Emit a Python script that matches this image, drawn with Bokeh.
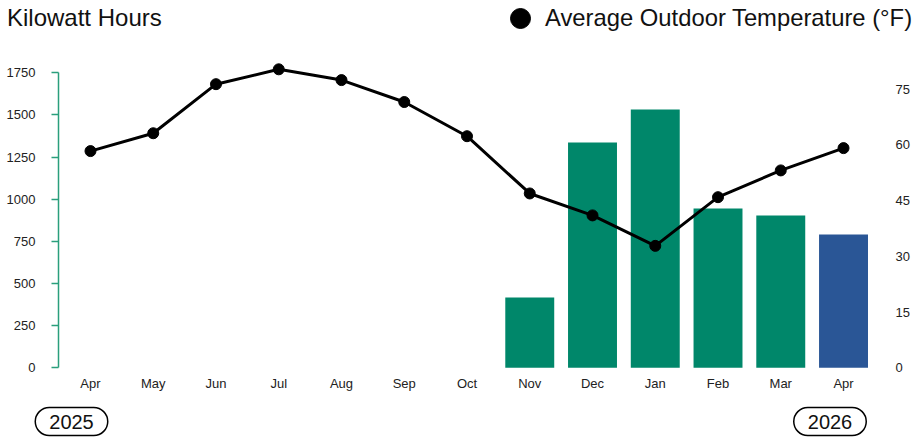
import math
from bokeh.plotting import figure
from bokeh.models import (Range1d, LinearAxis, FixedTicker, Label, Legend,
                          LegendItem, ColumnDataSource)
from bokeh.embed import file_html
from bokeh.resources import INLINE

# ---- data ----
months = ["Apr", "May", "Jun", "Jul", "Aug", "Sep", "Oct",
          "Nov", "Dec", "Jan", "Feb", "Mar", "Apr"]
kwh = [math.nan] * 7 + [417, 1336, 1532, 945, 903, 791]
temps = [58.3, 63.1, 76.3, 80.3, 77.4, 71.5, 62.3, 46.9, 41.0, 32.8, 45.9, 53.1, 59.1]
bar_colors = ["#00876a"] * 12 + ["#2a5696"]
kwh_ticks = [0, 250, 500, 750, 1000, 1250, 1500, 1750]
temp_ticks = [0, 15, 30, 45, 60, 75]
years = ["2025", "2026"]
title_text = "Kilowatt Hours"
legend_text = "Average Outdoor Temperature (°F)"

FONT = "Liberation Sans"
GREEN_AXIS = "#2a9f7c"
TXT = "#222222"
W, H = 916, 438
xs = list(range(len(months)))

source = ColumnDataSource(dict(x=xs, kwh=kwh, temp=temps, color=bar_colors))

# frame covers the whole canvas; axes are pinned with fixed_location
p = figure(width=W, height=H,
           x_range=Range1d(-1.434, 13.163), y_range=Range1d(-419.4, 2178.9),
           output_backend="svg", toolbar_location=None, min_border=0)
p.extra_y_ranges = {"temp": Range1d(-19.02, 98.81)}
p.xgrid.visible = False
p.ygrid.visible = False
p.outline_line_color = None
p.background_fill_color = "white"
p.border_fill_color = "white"

# x axis
xa = p.xaxis[0]
xa.fixed_location = 0
xa.ticker = FixedTicker(ticks=xs)
xa.major_label_overrides = {i: m for i, m in enumerate(months)}
xa.axis_line_color = None
xa.major_tick_line_color = None
xa.minor_tick_line_color = None
xa.major_tick_out = 0
xa.major_tick_in = 0
xa.major_label_standoff = 8
xa.major_label_text_font = FONT
xa.major_label_text_font_size = "13px"
xa.major_label_text_color = TXT

# left axis
ya = p.yaxis[0]
ya.fixed_location = -0.51
ya.ticker = FixedTicker(ticks=kwh_ticks)
ya.bounds = (0, 1750)
ya.axis_line_color = GREEN_AXIS
ya.axis_line_width = 1.5
ya.major_tick_line_color = GREEN_AXIS
ya.major_tick_line_width = 1.5
ya.major_tick_out = 7
ya.major_tick_in = 0
ya.minor_tick_line_color = None
ya.major_label_standoff = 16
ya.major_label_text_font = FONT
ya.major_label_text_font_size = "13px"
ya.major_label_text_color = TXT

# right axis
ra = LinearAxis(y_range_name="temp", ticker=FixedTicker(ticks=temp_ticks),
                fixed_location=12.829,
                axis_line_color=None, major_tick_line_color=None,
                minor_tick_line_color=None, major_tick_out=0, major_tick_in=0,
                major_label_standoff=0, major_label_text_font=FONT,
                major_label_text_font_size="13px",
                major_label_text_color=TXT)
p.add_layout(ra, "right")

# bars
p.vbar(x="x", top="kwh", width=0.78, fill_color="color", line_color=None,
       source=source)

# temperature line + points
p.line(x="x", y="temp", y_range_name="temp", line_color="black",
       line_width=3, source=source)
pts = p.scatter(x="x", y="temp", y_range_name="temp", size=11,
                fill_color="black", line_color="black", source=source)

legend = Legend(items=[LegendItem(label=legend_text, renderers=[pts])],
                location=(495, H - 43), glyph_width=50, glyph_height=50,
                label_standoff=0, padding=0, margin=0, spacing=0,
                border_line_color=None, background_fill_alpha=0,
                label_text_font=FONT, label_text_font_size="23.8px",
                label_text_color="#111111")
p.add_layout(legend)

p.add_layout(Label(x=6.5, y=H - 17, x_units="screen", y_units="screen",
                   text=title_text, text_font=FONT, text_font_size="24px",
                   text_baseline="middle", text_align="left",
                   text_color="#111111"))

for yx, yt in zip([71, 829.5], years):
    p.add_layout(Label(x=yx, y=H - 421, x_units="screen", y_units="screen",
                       text=yt, text_font=FONT, text_font_size="20px",
                       text_align="center", text_baseline="middle",
                       text_color="#111111",
                       border_line_color="black", border_line_width=1.5,
                       border_radius=16, background_fill_color="white",
                       padding=(14, 7)))

open("out.html", "w").write(file_html(p, INLINE))
